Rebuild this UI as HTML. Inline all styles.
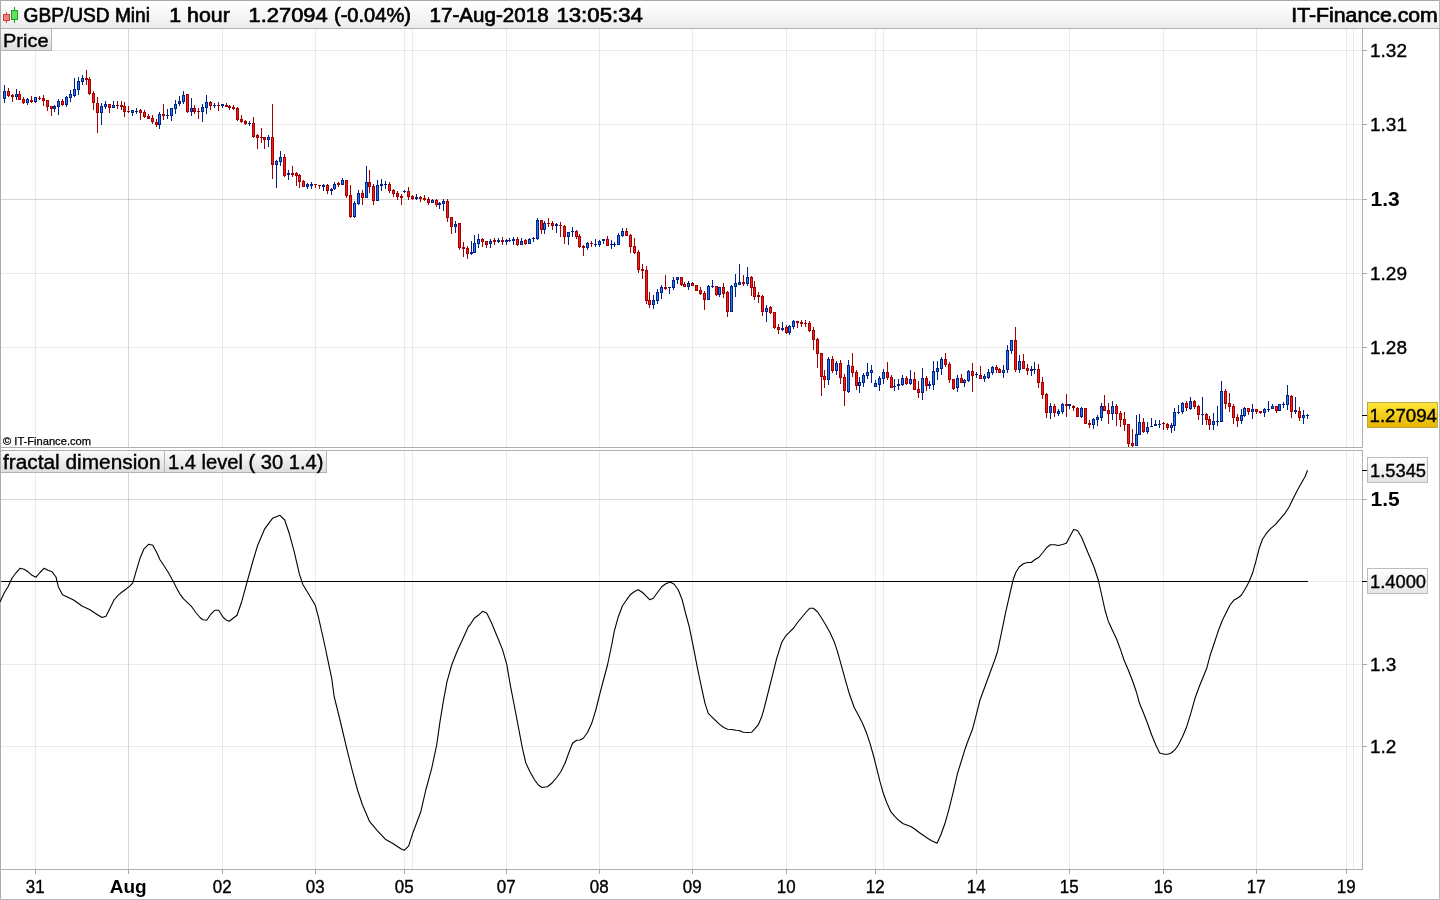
<!DOCTYPE html>
<html><head><meta charset="utf-8"><title>GBP/USD Mini</title>
<style>html,body{margin:0;padding:0;background:#fff;overflow:hidden}svg{display:block}</style>
</head><body>
<svg width="1440" height="900" viewBox="0 0 1440 900" font-family='"Liberation Sans", "DejaVu Sans", sans-serif' shape-rendering="crispEdges">
<defs>
<linearGradient id="hdr" x1="0" y1="0" x2="0" y2="1"><stop offset="0" stop-color="#ffffff"/><stop offset="0.12" stop-color="#ffffff"/><stop offset="1" stop-color="#ebebeb"/></linearGradient>
<linearGradient id="lbl" x1="0" y1="0" x2="0" y2="1"><stop offset="0" stop-color="#fafafa"/><stop offset="1" stop-color="#dedede"/></linearGradient>
<linearGradient id="gold" x1="0" y1="0" x2="0" y2="1"><stop offset="0" stop-color="#ffe838"/><stop offset="1" stop-color="#e6b400"/></linearGradient>
<linearGradient id="valb" x1="0" y1="0" x2="0" y2="1"><stop offset="0" stop-color="#ffffff"/><stop offset="1" stop-color="#e4e4e4"/></linearGradient>
</defs>
<rect x="0" y="0" width="1440" height="900" fill="#ffffff"/>
<rect x="0" y="0" width="1440" height="28" fill="url(#hdr)"/>
<rect x="0" y="28" width="1440" height="1" fill="#b4b4b4"/>
<rect x="0" y="0" width="1440" height="1" fill="#a8a8a8"/>
<rect x="0" y="0" width="1" height="900" fill="#acacac"/>
<rect x="1439" y="0" width="1" height="900" fill="#b8b8b8"/>
<rect x="0" y="899" width="1440" height="1" fill="#b8b8b8"/>
<rect x="35" y="29" width="1" height="418" fill="#000" fill-opacity="0.08"/>
<rect x="35" y="451" width="1" height="418" fill="#000" fill-opacity="0.08"/>
<rect x="128" y="29" width="1" height="418" fill="#000" fill-opacity="0.155"/>
<rect x="128" y="451" width="1" height="418" fill="#000" fill-opacity="0.155"/>
<rect x="222" y="29" width="1" height="418" fill="#000" fill-opacity="0.08"/>
<rect x="222" y="451" width="1" height="418" fill="#000" fill-opacity="0.08"/>
<rect x="315" y="29" width="1" height="418" fill="#000" fill-opacity="0.08"/>
<rect x="315" y="451" width="1" height="418" fill="#000" fill-opacity="0.08"/>
<rect x="404" y="29" width="1" height="418" fill="#000" fill-opacity="0.08"/>
<rect x="404" y="451" width="1" height="418" fill="#000" fill-opacity="0.08"/>
<rect x="412" y="29" width="1" height="418" fill="#000" fill-opacity="0.08"/>
<rect x="412" y="451" width="1" height="418" fill="#000" fill-opacity="0.08"/>
<rect x="506" y="29" width="1" height="418" fill="#000" fill-opacity="0.08"/>
<rect x="506" y="451" width="1" height="418" fill="#000" fill-opacity="0.08"/>
<rect x="599" y="29" width="1" height="418" fill="#000" fill-opacity="0.08"/>
<rect x="599" y="451" width="1" height="418" fill="#000" fill-opacity="0.08"/>
<rect x="692" y="29" width="1" height="418" fill="#000" fill-opacity="0.08"/>
<rect x="692" y="451" width="1" height="418" fill="#000" fill-opacity="0.08"/>
<rect x="786" y="29" width="1" height="418" fill="#000" fill-opacity="0.08"/>
<rect x="786" y="451" width="1" height="418" fill="#000" fill-opacity="0.08"/>
<rect x="875" y="29" width="1" height="418" fill="#000" fill-opacity="0.08"/>
<rect x="875" y="451" width="1" height="418" fill="#000" fill-opacity="0.08"/>
<rect x="883" y="29" width="1" height="418" fill="#000" fill-opacity="0.08"/>
<rect x="883" y="451" width="1" height="418" fill="#000" fill-opacity="0.08"/>
<rect x="976" y="29" width="1" height="418" fill="#000" fill-opacity="0.08"/>
<rect x="976" y="451" width="1" height="418" fill="#000" fill-opacity="0.08"/>
<rect x="1069" y="29" width="1" height="418" fill="#000" fill-opacity="0.08"/>
<rect x="1069" y="451" width="1" height="418" fill="#000" fill-opacity="0.08"/>
<rect x="1163" y="29" width="1" height="418" fill="#000" fill-opacity="0.08"/>
<rect x="1163" y="451" width="1" height="418" fill="#000" fill-opacity="0.08"/>
<rect x="1256" y="29" width="1" height="418" fill="#000" fill-opacity="0.08"/>
<rect x="1256" y="451" width="1" height="418" fill="#000" fill-opacity="0.08"/>
<rect x="1346" y="29" width="1" height="418" fill="#000" fill-opacity="0.08"/>
<rect x="1346" y="451" width="1" height="418" fill="#000" fill-opacity="0.08"/>
<rect x="1353" y="29" width="1" height="418" fill="#000" fill-opacity="0.08"/>
<rect x="1353" y="451" width="1" height="418" fill="#000" fill-opacity="0.08"/>
<rect x="1" y="50" width="1361" height="1" fill="#000" fill-opacity="0.08"/>
<rect x="1" y="124" width="1361" height="1" fill="#000" fill-opacity="0.08"/>
<rect x="1" y="199" width="1361" height="1" fill="#000" fill-opacity="0.155"/>
<rect x="1" y="273" width="1361" height="1" fill="#000" fill-opacity="0.08"/>
<rect x="1" y="347" width="1361" height="1" fill="#000" fill-opacity="0.08"/>
<rect x="1" y="499" width="1361" height="1" fill="#000" fill-opacity="0.155"/>
<rect x="1" y="581" width="1361" height="1" fill="#000" fill-opacity="0.08"/>
<rect x="1" y="664" width="1361" height="1" fill="#000" fill-opacity="0.08"/>
<rect x="1" y="746" width="1361" height="1" fill="#000" fill-opacity="0.08"/>
<rect x="0" y="447" width="1363" height="1" fill="#b0b0b0"/>
<rect x="1362" y="29" width="1" height="419" fill="#b0b0b0"/>
<rect x="0" y="450" width="1363" height="1" fill="#b0b0b0"/>
<rect x="1362" y="450" width="1" height="420" fill="#b0b0b0"/>
<rect x="0" y="869" width="1363" height="1" fill="#b0b0b0"/>
<rect x="1362" y="50" width="5" height="1" fill="#a8a8a8"/>
<text x="1370" y="57" font-size="19" stroke="#000" stroke-width="0.4" fill="#000">1.32</text>
<rect x="1362" y="124" width="5" height="1" fill="#a8a8a8"/>
<text x="1370" y="131" font-size="19" stroke="#000" stroke-width="0.4" fill="#000">1.31</text>
<rect x="1362" y="199" width="5" height="1" fill="#a8a8a8"/>
<text x="1370.5" y="206.3" font-size="21" font-weight="bold" fill="#000">1.3</text>
<rect x="1362" y="273" width="5" height="1" fill="#a8a8a8"/>
<text x="1370" y="280" font-size="19" stroke="#000" stroke-width="0.4" fill="#000">1.29</text>
<rect x="1362" y="347" width="5" height="1" fill="#a8a8a8"/>
<text x="1370" y="354" font-size="19" stroke="#000" stroke-width="0.4" fill="#000">1.28</text>
<rect x="1362" y="499" width="5" height="1" fill="#a8a8a8"/>
<text x="1370.5" y="506.3" font-size="21" font-weight="bold" fill="#000">1.5</text>
<rect x="1362" y="581" width="5" height="1" fill="#a8a8a8"/>
<rect x="1362" y="664" width="5" height="1" fill="#a8a8a8"/>
<text x="1370" y="671" font-size="19" stroke="#000" stroke-width="0.4" fill="#000">1.3</text>
<rect x="1362" y="746" width="5" height="1" fill="#a8a8a8"/>
<text x="1370" y="753" font-size="19" stroke="#000" stroke-width="0.4" fill="#000">1.2</text>
<rect x="35" y="869" width="1" height="5" fill="#a8a8a8"/>
<text x="35.2" y="893" font-size="19" text-anchor="middle" stroke="#000" stroke-width="0.4" textLength="18.8" lengthAdjust="spacingAndGlyphs" fill="#000">31</text>
<rect x="128" y="869" width="1" height="5" fill="#a8a8a8"/>
<text x="128.2" y="893" font-size="19" text-anchor="middle" font-weight="bold" fill="#000">Aug</text>
<rect x="222" y="869" width="1" height="5" fill="#a8a8a8"/>
<text x="222.2" y="893" font-size="19" text-anchor="middle" stroke="#000" stroke-width="0.4" textLength="18.8" lengthAdjust="spacingAndGlyphs" fill="#000">02</text>
<rect x="315" y="869" width="1" height="5" fill="#a8a8a8"/>
<text x="315.2" y="893" font-size="19" text-anchor="middle" stroke="#000" stroke-width="0.4" textLength="18.8" lengthAdjust="spacingAndGlyphs" fill="#000">03</text>
<rect x="404" y="869" width="1" height="5" fill="#a8a8a8"/>
<text x="404.2" y="893" font-size="19" text-anchor="middle" stroke="#000" stroke-width="0.4" textLength="18.8" lengthAdjust="spacingAndGlyphs" fill="#000">05</text>
<rect x="506" y="869" width="1" height="5" fill="#a8a8a8"/>
<text x="506.2" y="893" font-size="19" text-anchor="middle" stroke="#000" stroke-width="0.4" textLength="18.8" lengthAdjust="spacingAndGlyphs" fill="#000">07</text>
<rect x="599" y="869" width="1" height="5" fill="#a8a8a8"/>
<text x="599.2" y="893" font-size="19" text-anchor="middle" stroke="#000" stroke-width="0.4" textLength="18.8" lengthAdjust="spacingAndGlyphs" fill="#000">08</text>
<rect x="692" y="869" width="1" height="5" fill="#a8a8a8"/>
<text x="692.2" y="893" font-size="19" text-anchor="middle" stroke="#000" stroke-width="0.4" textLength="18.8" lengthAdjust="spacingAndGlyphs" fill="#000">09</text>
<rect x="786" y="869" width="1" height="5" fill="#a8a8a8"/>
<text x="786.2" y="893" font-size="19" text-anchor="middle" stroke="#000" stroke-width="0.4" textLength="18.8" lengthAdjust="spacingAndGlyphs" fill="#000">10</text>
<rect x="875" y="869" width="1" height="5" fill="#a8a8a8"/>
<text x="875.2" y="893" font-size="19" text-anchor="middle" stroke="#000" stroke-width="0.4" textLength="18.8" lengthAdjust="spacingAndGlyphs" fill="#000">12</text>
<rect x="976" y="869" width="1" height="5" fill="#a8a8a8"/>
<text x="976.2" y="893" font-size="19" text-anchor="middle" stroke="#000" stroke-width="0.4" textLength="18.8" lengthAdjust="spacingAndGlyphs" fill="#000">14</text>
<rect x="1069" y="869" width="1" height="5" fill="#a8a8a8"/>
<text x="1069.2" y="893" font-size="19" text-anchor="middle" stroke="#000" stroke-width="0.4" textLength="18.8" lengthAdjust="spacingAndGlyphs" fill="#000">15</text>
<rect x="1163" y="869" width="1" height="5" fill="#a8a8a8"/>
<text x="1163.2" y="893" font-size="19" text-anchor="middle" stroke="#000" stroke-width="0.4" textLength="18.8" lengthAdjust="spacingAndGlyphs" fill="#000">16</text>
<rect x="1256" y="869" width="1" height="5" fill="#a8a8a8"/>
<text x="1256.2" y="893" font-size="19" text-anchor="middle" stroke="#000" stroke-width="0.4" textLength="18.8" lengthAdjust="spacingAndGlyphs" fill="#000">17</text>
<rect x="1346" y="869" width="1" height="5" fill="#a8a8a8"/>
<text x="1346.2" y="893" font-size="19" text-anchor="middle" stroke="#000" stroke-width="0.4" textLength="18.8" lengthAdjust="spacingAndGlyphs" fill="#000">19</text>
<rect x="4" y="85" width="1" height="18" fill="#00228a"/>
<rect x="3" y="91" width="3" height="8" fill="#00228a"/>
<rect x="4" y="92" width="1" height="6" fill="#2080e8"/>
<rect x="8" y="88" width="1" height="9" fill="#a40000"/>
<rect x="7" y="91" width="3" height="5" fill="#a40000"/>
<rect x="8" y="92" width="1" height="3" fill="#f02020"/>
<rect x="12" y="94" width="1" height="8" fill="#a40000"/>
<rect x="11" y="95" width="3" height="2" fill="#a40000"/>
<rect x="16" y="89" width="1" height="11" fill="#00228a"/>
<rect x="15" y="94" width="3" height="3" fill="#00228a"/>
<rect x="16" y="95" width="1" height="1" fill="#2080e8"/>
<rect x="19" y="91" width="1" height="9" fill="#a40000"/>
<rect x="18" y="94" width="3" height="6" fill="#a40000"/>
<rect x="19" y="95" width="1" height="4" fill="#f02020"/>
<rect x="23" y="97" width="1" height="7" fill="#a40000"/>
<rect x="22" y="99" width="3" height="4" fill="#a40000"/>
<rect x="23" y="100" width="1" height="2" fill="#f02020"/>
<rect x="27" y="98" width="1" height="7" fill="#00228a"/>
<rect x="26" y="99" width="3" height="4" fill="#00228a"/>
<rect x="27" y="100" width="1" height="2" fill="#2080e8"/>
<rect x="31" y="96" width="1" height="7" fill="#a40000"/>
<rect x="30" y="100" width="3" height="2" fill="#a40000"/>
<rect x="35" y="97" width="1" height="6" fill="#00228a"/>
<rect x="34" y="97" width="3" height="5" fill="#00228a"/>
<rect x="35" y="98" width="1" height="3" fill="#2080e8"/>
<rect x="39" y="96" width="1" height="4" fill="#a40000"/>
<rect x="38" y="98" width="3" height="1" fill="#a40000"/>
<rect x="43" y="95" width="1" height="11" fill="#a40000"/>
<rect x="42" y="98" width="3" height="3" fill="#a40000"/>
<rect x="43" y="99" width="1" height="1" fill="#f02020"/>
<rect x="47" y="100" width="1" height="11" fill="#a40000"/>
<rect x="46" y="100" width="3" height="7" fill="#a40000"/>
<rect x="47" y="101" width="1" height="5" fill="#f02020"/>
<rect x="51" y="106" width="1" height="10" fill="#a40000"/>
<rect x="50" y="106" width="3" height="3" fill="#a40000"/>
<rect x="51" y="107" width="1" height="1" fill="#f02020"/>
<rect x="54" y="105" width="1" height="7" fill="#00228a"/>
<rect x="53" y="106" width="3" height="3" fill="#00228a"/>
<rect x="54" y="107" width="1" height="1" fill="#2080e8"/>
<rect x="58" y="99" width="1" height="16" fill="#00228a"/>
<rect x="57" y="101" width="3" height="6" fill="#00228a"/>
<rect x="58" y="102" width="1" height="4" fill="#2080e8"/>
<rect x="62" y="99" width="1" height="7" fill="#a40000"/>
<rect x="61" y="101" width="3" height="4" fill="#a40000"/>
<rect x="62" y="102" width="1" height="2" fill="#f02020"/>
<rect x="66" y="96" width="1" height="11" fill="#00228a"/>
<rect x="65" y="97" width="3" height="8" fill="#00228a"/>
<rect x="66" y="98" width="1" height="6" fill="#2080e8"/>
<rect x="70" y="90" width="1" height="12" fill="#00228a"/>
<rect x="69" y="94" width="3" height="4" fill="#00228a"/>
<rect x="70" y="95" width="1" height="2" fill="#2080e8"/>
<rect x="74" y="78" width="1" height="19" fill="#00228a"/>
<rect x="73" y="89" width="3" height="7" fill="#00228a"/>
<rect x="74" y="90" width="1" height="5" fill="#2080e8"/>
<rect x="78" y="77" width="1" height="18" fill="#00228a"/>
<rect x="77" y="81" width="3" height="9" fill="#00228a"/>
<rect x="78" y="82" width="1" height="7" fill="#2080e8"/>
<rect x="82" y="75" width="1" height="10" fill="#00228a"/>
<rect x="81" y="78" width="3" height="4" fill="#00228a"/>
<rect x="82" y="79" width="1" height="2" fill="#2080e8"/>
<rect x="86" y="70" width="1" height="15" fill="#a40000"/>
<rect x="85" y="78" width="3" height="2" fill="#a40000"/>
<rect x="89" y="77" width="1" height="18" fill="#a40000"/>
<rect x="88" y="79" width="3" height="15" fill="#a40000"/>
<rect x="89" y="80" width="1" height="13" fill="#f02020"/>
<rect x="93" y="91" width="1" height="19" fill="#a40000"/>
<rect x="92" y="93" width="3" height="10" fill="#a40000"/>
<rect x="93" y="94" width="1" height="8" fill="#f02020"/>
<rect x="97" y="97" width="1" height="36" fill="#a40000"/>
<rect x="96" y="103" width="3" height="10" fill="#a40000"/>
<rect x="97" y="104" width="1" height="8" fill="#f02020"/>
<rect x="101" y="103" width="1" height="22" fill="#00228a"/>
<rect x="100" y="106" width="3" height="7" fill="#00228a"/>
<rect x="101" y="107" width="1" height="5" fill="#2080e8"/>
<rect x="105" y="101" width="1" height="8" fill="#00228a"/>
<rect x="104" y="104" width="3" height="3" fill="#00228a"/>
<rect x="105" y="105" width="1" height="1" fill="#2080e8"/>
<rect x="109" y="104" width="1" height="9" fill="#a40000"/>
<rect x="108" y="104" width="3" height="4" fill="#a40000"/>
<rect x="109" y="105" width="1" height="2" fill="#f02020"/>
<rect x="113" y="101" width="1" height="7" fill="#00228a"/>
<rect x="112" y="105" width="3" height="3" fill="#00228a"/>
<rect x="113" y="106" width="1" height="1" fill="#2080e8"/>
<rect x="117" y="101" width="1" height="8" fill="#a40000"/>
<rect x="116" y="105" width="3" height="1" fill="#a40000"/>
<rect x="121" y="101" width="1" height="9" fill="#a40000"/>
<rect x="120" y="105" width="3" height="2" fill="#a40000"/>
<rect x="124" y="102" width="1" height="15" fill="#a40000"/>
<rect x="123" y="106" width="3" height="6" fill="#a40000"/>
<rect x="124" y="107" width="1" height="4" fill="#f02020"/>
<rect x="128" y="106" width="1" height="7" fill="#a40000"/>
<rect x="127" y="111" width="3" height="1" fill="#a40000"/>
<rect x="132" y="110" width="1" height="6" fill="#00228a"/>
<rect x="131" y="110" width="3" height="3" fill="#00228a"/>
<rect x="132" y="111" width="1" height="1" fill="#2080e8"/>
<rect x="136" y="108" width="1" height="6" fill="#00228a"/>
<rect x="135" y="111" width="3" height="1" fill="#00228a"/>
<rect x="140" y="109" width="1" height="11" fill="#a40000"/>
<rect x="139" y="110" width="3" height="3" fill="#a40000"/>
<rect x="140" y="111" width="1" height="1" fill="#f02020"/>
<rect x="144" y="110" width="1" height="8" fill="#a40000"/>
<rect x="143" y="112" width="3" height="5" fill="#a40000"/>
<rect x="144" y="113" width="1" height="3" fill="#f02020"/>
<rect x="148" y="114" width="1" height="5" fill="#a40000"/>
<rect x="147" y="116" width="3" height="3" fill="#a40000"/>
<rect x="148" y="117" width="1" height="1" fill="#f02020"/>
<rect x="152" y="115" width="1" height="9" fill="#a40000"/>
<rect x="151" y="118" width="3" height="4" fill="#a40000"/>
<rect x="152" y="119" width="1" height="2" fill="#f02020"/>
<rect x="156" y="119" width="1" height="8" fill="#a40000"/>
<rect x="155" y="122" width="3" height="3" fill="#a40000"/>
<rect x="156" y="123" width="1" height="1" fill="#f02020"/>
<rect x="159" y="112" width="1" height="17" fill="#00228a"/>
<rect x="158" y="114" width="3" height="11" fill="#00228a"/>
<rect x="159" y="115" width="1" height="9" fill="#2080e8"/>
<rect x="163" y="104" width="1" height="16" fill="#a40000"/>
<rect x="162" y="114" width="3" height="2" fill="#a40000"/>
<rect x="167" y="109" width="1" height="10" fill="#00228a"/>
<rect x="166" y="115" width="3" height="1" fill="#00228a"/>
<rect x="171" y="108" width="1" height="13" fill="#00228a"/>
<rect x="170" y="108" width="3" height="8" fill="#00228a"/>
<rect x="171" y="109" width="1" height="6" fill="#2080e8"/>
<rect x="175" y="100" width="1" height="14" fill="#00228a"/>
<rect x="174" y="104" width="3" height="5" fill="#00228a"/>
<rect x="175" y="105" width="1" height="3" fill="#2080e8"/>
<rect x="179" y="96" width="1" height="10" fill="#00228a"/>
<rect x="178" y="101" width="3" height="3" fill="#00228a"/>
<rect x="179" y="102" width="1" height="1" fill="#2080e8"/>
<rect x="183" y="91" width="1" height="13" fill="#00228a"/>
<rect x="182" y="95" width="3" height="7" fill="#00228a"/>
<rect x="183" y="96" width="1" height="5" fill="#2080e8"/>
<rect x="187" y="94" width="1" height="19" fill="#a40000"/>
<rect x="186" y="94" width="3" height="18" fill="#a40000"/>
<rect x="187" y="95" width="1" height="16" fill="#f02020"/>
<rect x="191" y="98" width="1" height="18" fill="#00228a"/>
<rect x="190" y="108" width="3" height="4" fill="#00228a"/>
<rect x="191" y="109" width="1" height="2" fill="#2080e8"/>
<rect x="194" y="105" width="1" height="9" fill="#a40000"/>
<rect x="193" y="108" width="3" height="4" fill="#a40000"/>
<rect x="194" y="109" width="1" height="2" fill="#f02020"/>
<rect x="198" y="108" width="1" height="11" fill="#a40000"/>
<rect x="197" y="111" width="3" height="1" fill="#a40000"/>
<rect x="202" y="104" width="1" height="18" fill="#00228a"/>
<rect x="201" y="107" width="3" height="5" fill="#00228a"/>
<rect x="202" y="108" width="1" height="3" fill="#2080e8"/>
<rect x="206" y="95" width="1" height="19" fill="#00228a"/>
<rect x="205" y="102" width="3" height="6" fill="#00228a"/>
<rect x="206" y="103" width="1" height="4" fill="#2080e8"/>
<rect x="210" y="101" width="1" height="9" fill="#a40000"/>
<rect x="209" y="102" width="3" height="4" fill="#a40000"/>
<rect x="210" y="103" width="1" height="2" fill="#f02020"/>
<rect x="214" y="103" width="1" height="5" fill="#00228a"/>
<rect x="213" y="105" width="3" height="1" fill="#00228a"/>
<rect x="218" y="102" width="1" height="9" fill="#a40000"/>
<rect x="217" y="105" width="3" height="1" fill="#a40000"/>
<rect x="222" y="104" width="1" height="4" fill="#00228a"/>
<rect x="221" y="104" width="3" height="2" fill="#00228a"/>
<rect x="226" y="103" width="1" height="4" fill="#a40000"/>
<rect x="225" y="105" width="3" height="2" fill="#a40000"/>
<rect x="229" y="105" width="1" height="5" fill="#a40000"/>
<rect x="228" y="106" width="3" height="2" fill="#a40000"/>
<rect x="233" y="105" width="1" height="5" fill="#a40000"/>
<rect x="232" y="107" width="3" height="2" fill="#a40000"/>
<rect x="237" y="107" width="1" height="14" fill="#a40000"/>
<rect x="236" y="108" width="3" height="12" fill="#a40000"/>
<rect x="237" y="109" width="1" height="10" fill="#f02020"/>
<rect x="241" y="115" width="1" height="8" fill="#a40000"/>
<rect x="240" y="119" width="3" height="3" fill="#a40000"/>
<rect x="241" y="120" width="1" height="1" fill="#f02020"/>
<rect x="245" y="120" width="1" height="5" fill="#a40000"/>
<rect x="244" y="121" width="3" height="3" fill="#a40000"/>
<rect x="245" y="122" width="1" height="1" fill="#f02020"/>
<rect x="249" y="121" width="1" height="5" fill="#00228a"/>
<rect x="248" y="123" width="3" height="1" fill="#00228a"/>
<rect x="253" y="117" width="1" height="21" fill="#a40000"/>
<rect x="252" y="123" width="3" height="14" fill="#a40000"/>
<rect x="253" y="124" width="1" height="12" fill="#f02020"/>
<rect x="257" y="134" width="1" height="15" fill="#a40000"/>
<rect x="256" y="135" width="3" height="3" fill="#a40000"/>
<rect x="257" y="136" width="1" height="1" fill="#f02020"/>
<rect x="261" y="128" width="1" height="15" fill="#a40000"/>
<rect x="260" y="137" width="3" height="1" fill="#a40000"/>
<rect x="264" y="137" width="1" height="12" fill="#a40000"/>
<rect x="263" y="137" width="3" height="3" fill="#a40000"/>
<rect x="264" y="138" width="1" height="1" fill="#f02020"/>
<rect x="268" y="135" width="1" height="12" fill="#00228a"/>
<rect x="267" y="137" width="3" height="3" fill="#00228a"/>
<rect x="268" y="138" width="1" height="1" fill="#2080e8"/>
<rect x="272" y="104" width="1" height="75" fill="#a40000"/>
<rect x="271" y="137" width="3" height="28" fill="#a40000"/>
<rect x="272" y="138" width="1" height="26" fill="#f02020"/>
<rect x="276" y="160" width="1" height="28" fill="#00228a"/>
<rect x="275" y="161" width="3" height="4" fill="#00228a"/>
<rect x="276" y="162" width="1" height="2" fill="#2080e8"/>
<rect x="280" y="151" width="1" height="15" fill="#00228a"/>
<rect x="279" y="157" width="3" height="5" fill="#00228a"/>
<rect x="280" y="158" width="1" height="3" fill="#2080e8"/>
<rect x="284" y="154" width="1" height="23" fill="#a40000"/>
<rect x="283" y="157" width="3" height="19" fill="#a40000"/>
<rect x="284" y="158" width="1" height="17" fill="#f02020"/>
<rect x="288" y="170" width="1" height="10" fill="#00228a"/>
<rect x="287" y="173" width="3" height="2" fill="#00228a"/>
<rect x="292" y="166" width="1" height="11" fill="#a40000"/>
<rect x="291" y="173" width="3" height="2" fill="#a40000"/>
<rect x="296" y="172" width="1" height="14" fill="#a40000"/>
<rect x="295" y="173" width="3" height="3" fill="#a40000"/>
<rect x="296" y="174" width="1" height="1" fill="#f02020"/>
<rect x="299" y="174" width="1" height="14" fill="#a40000"/>
<rect x="298" y="175" width="3" height="7" fill="#a40000"/>
<rect x="299" y="176" width="1" height="5" fill="#f02020"/>
<rect x="303" y="180" width="1" height="7" fill="#a40000"/>
<rect x="302" y="181" width="3" height="6" fill="#a40000"/>
<rect x="303" y="182" width="1" height="4" fill="#f02020"/>
<rect x="307" y="183" width="1" height="6" fill="#00228a"/>
<rect x="306" y="184" width="3" height="3" fill="#00228a"/>
<rect x="307" y="185" width="1" height="1" fill="#2080e8"/>
<rect x="311" y="182" width="1" height="7" fill="#00228a"/>
<rect x="310" y="184" width="3" height="2" fill="#00228a"/>
<rect x="315" y="184" width="1" height="4" fill="#a40000"/>
<rect x="314" y="184" width="3" height="1" fill="#a40000"/>
<rect x="319" y="185" width="1" height="4" fill="#a40000"/>
<rect x="318" y="185" width="3" height="1" fill="#a40000"/>
<rect x="323" y="184" width="1" height="7" fill="#00228a"/>
<rect x="322" y="185" width="3" height="2" fill="#00228a"/>
<rect x="327" y="184" width="1" height="10" fill="#a40000"/>
<rect x="326" y="185" width="3" height="6" fill="#a40000"/>
<rect x="327" y="186" width="1" height="4" fill="#f02020"/>
<rect x="331" y="188" width="1" height="7" fill="#00228a"/>
<rect x="330" y="189" width="3" height="2" fill="#00228a"/>
<rect x="334" y="182" width="1" height="8" fill="#00228a"/>
<rect x="333" y="184" width="3" height="5" fill="#00228a"/>
<rect x="334" y="185" width="1" height="3" fill="#2080e8"/>
<rect x="338" y="182" width="1" height="5" fill="#a40000"/>
<rect x="337" y="183" width="3" height="2" fill="#a40000"/>
<rect x="342" y="178" width="1" height="7" fill="#00228a"/>
<rect x="341" y="180" width="3" height="5" fill="#00228a"/>
<rect x="342" y="181" width="1" height="3" fill="#2080e8"/>
<rect x="346" y="180" width="1" height="18" fill="#a40000"/>
<rect x="345" y="180" width="3" height="16" fill="#a40000"/>
<rect x="346" y="181" width="1" height="14" fill="#f02020"/>
<rect x="350" y="185" width="1" height="33" fill="#a40000"/>
<rect x="349" y="195" width="3" height="22" fill="#a40000"/>
<rect x="350" y="196" width="1" height="20" fill="#f02020"/>
<rect x="354" y="201" width="1" height="17" fill="#00228a"/>
<rect x="353" y="203" width="3" height="14" fill="#00228a"/>
<rect x="354" y="204" width="1" height="12" fill="#2080e8"/>
<rect x="358" y="190" width="1" height="15" fill="#00228a"/>
<rect x="357" y="193" width="3" height="11" fill="#00228a"/>
<rect x="358" y="194" width="1" height="9" fill="#2080e8"/>
<rect x="362" y="190" width="1" height="15" fill="#a40000"/>
<rect x="361" y="193" width="3" height="5" fill="#a40000"/>
<rect x="362" y="194" width="1" height="3" fill="#f02020"/>
<rect x="366" y="166" width="1" height="32" fill="#00228a"/>
<rect x="365" y="182" width="3" height="16" fill="#00228a"/>
<rect x="366" y="183" width="1" height="14" fill="#2080e8"/>
<rect x="369" y="170" width="1" height="23" fill="#a40000"/>
<rect x="368" y="182" width="3" height="5" fill="#a40000"/>
<rect x="369" y="183" width="1" height="3" fill="#f02020"/>
<rect x="373" y="184" width="1" height="21" fill="#a40000"/>
<rect x="372" y="186" width="3" height="15" fill="#a40000"/>
<rect x="373" y="187" width="1" height="13" fill="#f02020"/>
<rect x="377" y="180" width="1" height="21" fill="#00228a"/>
<rect x="376" y="185" width="3" height="16" fill="#00228a"/>
<rect x="377" y="186" width="1" height="14" fill="#2080e8"/>
<rect x="381" y="179" width="1" height="12" fill="#00228a"/>
<rect x="380" y="184" width="3" height="2" fill="#00228a"/>
<rect x="385" y="181" width="1" height="8" fill="#00228a"/>
<rect x="384" y="184" width="3" height="1" fill="#00228a"/>
<rect x="389" y="182" width="1" height="11" fill="#a40000"/>
<rect x="388" y="184" width="3" height="7" fill="#a40000"/>
<rect x="389" y="185" width="1" height="5" fill="#f02020"/>
<rect x="393" y="189" width="1" height="8" fill="#a40000"/>
<rect x="392" y="190" width="3" height="4" fill="#a40000"/>
<rect x="393" y="191" width="1" height="2" fill="#f02020"/>
<rect x="397" y="191" width="1" height="9" fill="#a40000"/>
<rect x="396" y="193" width="3" height="4" fill="#a40000"/>
<rect x="397" y="194" width="1" height="2" fill="#f02020"/>
<rect x="401" y="194" width="1" height="11" fill="#a40000"/>
<rect x="400" y="196" width="3" height="2" fill="#a40000"/>
<rect x="404" y="190" width="1" height="3" fill="#00228a"/>
<rect x="403" y="191" width="3" height="1" fill="#00228a"/>
<rect x="408" y="187" width="1" height="13" fill="#a40000"/>
<rect x="407" y="191" width="3" height="6" fill="#a40000"/>
<rect x="408" y="192" width="1" height="4" fill="#f02020"/>
<rect x="412" y="195" width="1" height="5" fill="#a40000"/>
<rect x="411" y="196" width="3" height="3" fill="#a40000"/>
<rect x="412" y="197" width="1" height="1" fill="#f02020"/>
<rect x="416" y="194" width="1" height="6" fill="#00228a"/>
<rect x="415" y="197" width="3" height="2" fill="#00228a"/>
<rect x="420" y="196" width="1" height="6" fill="#a40000"/>
<rect x="419" y="197" width="3" height="2" fill="#a40000"/>
<rect x="424" y="195" width="1" height="6" fill="#a40000"/>
<rect x="423" y="198" width="3" height="2" fill="#a40000"/>
<rect x="428" y="197" width="1" height="8" fill="#a40000"/>
<rect x="427" y="199" width="3" height="4" fill="#a40000"/>
<rect x="428" y="200" width="1" height="2" fill="#f02020"/>
<rect x="432" y="199" width="1" height="4" fill="#00228a"/>
<rect x="431" y="200" width="3" height="3" fill="#00228a"/>
<rect x="432" y="201" width="1" height="1" fill="#2080e8"/>
<rect x="436" y="199" width="1" height="8" fill="#a40000"/>
<rect x="435" y="200" width="3" height="5" fill="#a40000"/>
<rect x="436" y="201" width="1" height="3" fill="#f02020"/>
<rect x="439" y="202" width="1" height="7" fill="#00228a"/>
<rect x="438" y="203" width="3" height="2" fill="#00228a"/>
<rect x="443" y="199" width="1" height="12" fill="#00228a"/>
<rect x="442" y="201" width="3" height="3" fill="#00228a"/>
<rect x="443" y="202" width="1" height="1" fill="#2080e8"/>
<rect x="447" y="199" width="1" height="23" fill="#a40000"/>
<rect x="446" y="201" width="3" height="17" fill="#a40000"/>
<rect x="447" y="202" width="1" height="15" fill="#f02020"/>
<rect x="451" y="217" width="1" height="17" fill="#a40000"/>
<rect x="450" y="217" width="3" height="10" fill="#a40000"/>
<rect x="451" y="218" width="1" height="8" fill="#f02020"/>
<rect x="455" y="221" width="1" height="12" fill="#00228a"/>
<rect x="454" y="224" width="3" height="3" fill="#00228a"/>
<rect x="455" y="225" width="1" height="1" fill="#2080e8"/>
<rect x="459" y="223" width="1" height="27" fill="#a40000"/>
<rect x="458" y="223" width="3" height="25" fill="#a40000"/>
<rect x="459" y="224" width="1" height="23" fill="#f02020"/>
<rect x="463" y="242" width="1" height="15" fill="#a40000"/>
<rect x="462" y="247" width="3" height="2" fill="#a40000"/>
<rect x="467" y="246" width="1" height="13" fill="#a40000"/>
<rect x="466" y="248" width="3" height="6" fill="#a40000"/>
<rect x="467" y="249" width="1" height="4" fill="#f02020"/>
<rect x="471" y="241" width="1" height="14" fill="#00228a"/>
<rect x="470" y="252" width="3" height="2" fill="#00228a"/>
<rect x="474" y="235" width="1" height="18" fill="#00228a"/>
<rect x="473" y="243" width="3" height="10" fill="#00228a"/>
<rect x="474" y="244" width="1" height="8" fill="#2080e8"/>
<rect x="478" y="234" width="1" height="14" fill="#00228a"/>
<rect x="477" y="239" width="3" height="5" fill="#00228a"/>
<rect x="478" y="240" width="1" height="3" fill="#2080e8"/>
<rect x="482" y="238" width="1" height="9" fill="#a40000"/>
<rect x="481" y="239" width="3" height="3" fill="#a40000"/>
<rect x="482" y="240" width="1" height="1" fill="#f02020"/>
<rect x="486" y="241" width="1" height="7" fill="#a40000"/>
<rect x="485" y="241" width="3" height="4" fill="#a40000"/>
<rect x="486" y="242" width="1" height="2" fill="#f02020"/>
<rect x="490" y="239" width="1" height="9" fill="#00228a"/>
<rect x="489" y="241" width="3" height="3" fill="#00228a"/>
<rect x="490" y="242" width="1" height="1" fill="#2080e8"/>
<rect x="494" y="238" width="1" height="7" fill="#a40000"/>
<rect x="493" y="240" width="3" height="2" fill="#a40000"/>
<rect x="498" y="238" width="1" height="5" fill="#00228a"/>
<rect x="497" y="240" width="3" height="2" fill="#00228a"/>
<rect x="502" y="237" width="1" height="8" fill="#a40000"/>
<rect x="501" y="240" width="3" height="2" fill="#a40000"/>
<rect x="506" y="239" width="1" height="6" fill="#00228a"/>
<rect x="505" y="240" width="3" height="2" fill="#00228a"/>
<rect x="509" y="238" width="1" height="4" fill="#00228a"/>
<rect x="508" y="240" width="3" height="1" fill="#00228a"/>
<rect x="513" y="237" width="1" height="8" fill="#00228a"/>
<rect x="512" y="239" width="3" height="2" fill="#00228a"/>
<rect x="517" y="237" width="1" height="9" fill="#a40000"/>
<rect x="516" y="239" width="3" height="6" fill="#a40000"/>
<rect x="517" y="240" width="1" height="4" fill="#f02020"/>
<rect x="521" y="238" width="1" height="7" fill="#00228a"/>
<rect x="520" y="241" width="3" height="4" fill="#00228a"/>
<rect x="521" y="242" width="1" height="2" fill="#2080e8"/>
<rect x="525" y="239" width="1" height="6" fill="#a40000"/>
<rect x="524" y="240" width="3" height="4" fill="#a40000"/>
<rect x="525" y="241" width="1" height="2" fill="#f02020"/>
<rect x="529" y="238" width="1" height="6" fill="#00228a"/>
<rect x="528" y="239" width="3" height="5" fill="#00228a"/>
<rect x="529" y="240" width="1" height="3" fill="#2080e8"/>
<rect x="533" y="237" width="1" height="5" fill="#00228a"/>
<rect x="532" y="238" width="3" height="1" fill="#00228a"/>
<rect x="537" y="218" width="1" height="22" fill="#00228a"/>
<rect x="536" y="220" width="3" height="19" fill="#00228a"/>
<rect x="537" y="221" width="1" height="17" fill="#2080e8"/>
<rect x="541" y="220" width="1" height="14" fill="#a40000"/>
<rect x="540" y="220" width="3" height="10" fill="#a40000"/>
<rect x="541" y="221" width="1" height="8" fill="#f02020"/>
<rect x="544" y="221" width="1" height="13" fill="#00228a"/>
<rect x="543" y="223" width="3" height="7" fill="#00228a"/>
<rect x="544" y="224" width="1" height="5" fill="#2080e8"/>
<rect x="548" y="218" width="1" height="9" fill="#a40000"/>
<rect x="547" y="223" width="3" height="1" fill="#a40000"/>
<rect x="552" y="221" width="1" height="9" fill="#a40000"/>
<rect x="551" y="223" width="3" height="3" fill="#a40000"/>
<rect x="552" y="224" width="1" height="1" fill="#f02020"/>
<rect x="556" y="223" width="1" height="10" fill="#00228a"/>
<rect x="555" y="224" width="3" height="2" fill="#00228a"/>
<rect x="560" y="222" width="1" height="15" fill="#a40000"/>
<rect x="559" y="225" width="3" height="1" fill="#a40000"/>
<rect x="564" y="225" width="1" height="19" fill="#a40000"/>
<rect x="563" y="226" width="3" height="11" fill="#a40000"/>
<rect x="564" y="227" width="1" height="9" fill="#f02020"/>
<rect x="568" y="232" width="1" height="13" fill="#00228a"/>
<rect x="567" y="232" width="3" height="5" fill="#00228a"/>
<rect x="568" y="233" width="1" height="3" fill="#2080e8"/>
<rect x="572" y="227" width="1" height="10" fill="#00228a"/>
<rect x="571" y="231" width="3" height="1" fill="#00228a"/>
<rect x="576" y="230" width="1" height="9" fill="#a40000"/>
<rect x="575" y="231" width="3" height="6" fill="#a40000"/>
<rect x="576" y="232" width="1" height="4" fill="#f02020"/>
<rect x="579" y="234" width="1" height="14" fill="#a40000"/>
<rect x="578" y="236" width="3" height="11" fill="#a40000"/>
<rect x="579" y="237" width="1" height="9" fill="#f02020"/>
<rect x="583" y="245" width="1" height="11" fill="#a40000"/>
<rect x="582" y="246" width="3" height="2" fill="#a40000"/>
<rect x="587" y="242" width="1" height="8" fill="#00228a"/>
<rect x="586" y="243" width="3" height="5" fill="#00228a"/>
<rect x="587" y="244" width="1" height="3" fill="#2080e8"/>
<rect x="591" y="241" width="1" height="6" fill="#a40000"/>
<rect x="590" y="243" width="3" height="1" fill="#a40000"/>
<rect x="595" y="239" width="1" height="8" fill="#00228a"/>
<rect x="594" y="244" width="3" height="1" fill="#00228a"/>
<rect x="599" y="240" width="1" height="7" fill="#00228a"/>
<rect x="598" y="241" width="3" height="4" fill="#00228a"/>
<rect x="599" y="242" width="1" height="2" fill="#2080e8"/>
<rect x="603" y="239" width="1" height="5" fill="#00228a"/>
<rect x="602" y="239" width="3" height="2" fill="#00228a"/>
<rect x="607" y="236" width="1" height="10" fill="#a40000"/>
<rect x="606" y="239" width="3" height="7" fill="#a40000"/>
<rect x="607" y="240" width="1" height="5" fill="#f02020"/>
<rect x="611" y="240" width="1" height="9" fill="#00228a"/>
<rect x="610" y="244" width="3" height="1" fill="#00228a"/>
<rect x="614" y="242" width="1" height="5" fill="#00228a"/>
<rect x="613" y="244" width="3" height="1" fill="#00228a"/>
<rect x="618" y="233" width="1" height="12" fill="#00228a"/>
<rect x="617" y="235" width="3" height="10" fill="#00228a"/>
<rect x="618" y="236" width="1" height="8" fill="#2080e8"/>
<rect x="622" y="228" width="1" height="9" fill="#00228a"/>
<rect x="621" y="231" width="3" height="5" fill="#00228a"/>
<rect x="622" y="232" width="1" height="3" fill="#2080e8"/>
<rect x="626" y="228" width="1" height="8" fill="#a40000"/>
<rect x="625" y="231" width="3" height="5" fill="#a40000"/>
<rect x="626" y="232" width="1" height="3" fill="#f02020"/>
<rect x="630" y="234" width="1" height="19" fill="#a40000"/>
<rect x="629" y="235" width="3" height="12" fill="#a40000"/>
<rect x="630" y="236" width="1" height="10" fill="#f02020"/>
<rect x="634" y="238" width="1" height="16" fill="#a40000"/>
<rect x="633" y="246" width="3" height="7" fill="#a40000"/>
<rect x="634" y="247" width="1" height="5" fill="#f02020"/>
<rect x="638" y="250" width="1" height="23" fill="#a40000"/>
<rect x="637" y="252" width="3" height="18" fill="#a40000"/>
<rect x="638" y="253" width="1" height="16" fill="#f02020"/>
<rect x="642" y="264" width="1" height="15" fill="#a40000"/>
<rect x="641" y="269" width="3" height="2" fill="#a40000"/>
<rect x="646" y="266" width="1" height="38" fill="#a40000"/>
<rect x="645" y="270" width="3" height="31" fill="#a40000"/>
<rect x="646" y="271" width="1" height="29" fill="#f02020"/>
<rect x="649" y="292" width="1" height="16" fill="#a40000"/>
<rect x="648" y="300" width="3" height="5" fill="#a40000"/>
<rect x="649" y="301" width="1" height="3" fill="#f02020"/>
<rect x="653" y="295" width="1" height="14" fill="#00228a"/>
<rect x="652" y="300" width="3" height="5" fill="#00228a"/>
<rect x="653" y="301" width="1" height="3" fill="#2080e8"/>
<rect x="657" y="289" width="1" height="15" fill="#00228a"/>
<rect x="656" y="292" width="3" height="9" fill="#00228a"/>
<rect x="657" y="293" width="1" height="7" fill="#2080e8"/>
<rect x="661" y="285" width="1" height="14" fill="#00228a"/>
<rect x="660" y="287" width="3" height="6" fill="#00228a"/>
<rect x="661" y="288" width="1" height="4" fill="#2080e8"/>
<rect x="665" y="275" width="1" height="15" fill="#a40000"/>
<rect x="664" y="287" width="3" height="2" fill="#a40000"/>
<rect x="669" y="287" width="1" height="7" fill="#00228a"/>
<rect x="668" y="287" width="3" height="1" fill="#00228a"/>
<rect x="673" y="277" width="1" height="13" fill="#00228a"/>
<rect x="672" y="280" width="3" height="8" fill="#00228a"/>
<rect x="673" y="281" width="1" height="6" fill="#2080e8"/>
<rect x="677" y="277" width="1" height="7" fill="#00228a"/>
<rect x="676" y="277" width="3" height="3" fill="#00228a"/>
<rect x="677" y="278" width="1" height="1" fill="#2080e8"/>
<rect x="681" y="277" width="1" height="9" fill="#a40000"/>
<rect x="680" y="277" width="3" height="8" fill="#a40000"/>
<rect x="681" y="278" width="1" height="6" fill="#f02020"/>
<rect x="684" y="282" width="1" height="5" fill="#a40000"/>
<rect x="683" y="284" width="3" height="3" fill="#a40000"/>
<rect x="684" y="285" width="1" height="1" fill="#f02020"/>
<rect x="688" y="281" width="1" height="9" fill="#00228a"/>
<rect x="687" y="283" width="3" height="4" fill="#00228a"/>
<rect x="688" y="284" width="1" height="2" fill="#2080e8"/>
<rect x="692" y="282" width="1" height="4" fill="#a40000"/>
<rect x="691" y="283" width="3" height="3" fill="#a40000"/>
<rect x="692" y="284" width="1" height="1" fill="#f02020"/>
<rect x="696" y="285" width="1" height="6" fill="#a40000"/>
<rect x="695" y="285" width="3" height="6" fill="#a40000"/>
<rect x="696" y="286" width="1" height="4" fill="#f02020"/>
<rect x="700" y="287" width="1" height="8" fill="#a40000"/>
<rect x="699" y="290" width="3" height="4" fill="#a40000"/>
<rect x="700" y="291" width="1" height="2" fill="#f02020"/>
<rect x="704" y="291" width="1" height="19" fill="#a40000"/>
<rect x="703" y="293" width="3" height="7" fill="#a40000"/>
<rect x="704" y="294" width="1" height="5" fill="#f02020"/>
<rect x="708" y="285" width="1" height="15" fill="#00228a"/>
<rect x="707" y="286" width="3" height="14" fill="#00228a"/>
<rect x="708" y="287" width="1" height="12" fill="#2080e8"/>
<rect x="712" y="280" width="1" height="8" fill="#00228a"/>
<rect x="711" y="286" width="3" height="1" fill="#00228a"/>
<rect x="716" y="286" width="1" height="10" fill="#a40000"/>
<rect x="715" y="286" width="3" height="9" fill="#a40000"/>
<rect x="716" y="287" width="1" height="7" fill="#f02020"/>
<rect x="719" y="287" width="1" height="10" fill="#00228a"/>
<rect x="718" y="287" width="3" height="8" fill="#00228a"/>
<rect x="719" y="288" width="1" height="6" fill="#2080e8"/>
<rect x="723" y="283" width="1" height="15" fill="#a40000"/>
<rect x="722" y="287" width="3" height="7" fill="#a40000"/>
<rect x="723" y="288" width="1" height="5" fill="#f02020"/>
<rect x="727" y="291" width="1" height="26" fill="#a40000"/>
<rect x="726" y="292" width="3" height="20" fill="#a40000"/>
<rect x="727" y="293" width="1" height="18" fill="#f02020"/>
<rect x="731" y="285" width="1" height="27" fill="#00228a"/>
<rect x="730" y="286" width="3" height="26" fill="#00228a"/>
<rect x="731" y="287" width="1" height="24" fill="#2080e8"/>
<rect x="735" y="274" width="1" height="23" fill="#00228a"/>
<rect x="734" y="283" width="3" height="4" fill="#00228a"/>
<rect x="735" y="284" width="1" height="2" fill="#2080e8"/>
<rect x="739" y="264" width="1" height="21" fill="#00228a"/>
<rect x="738" y="282" width="3" height="3" fill="#00228a"/>
<rect x="739" y="283" width="1" height="1" fill="#2080e8"/>
<rect x="743" y="275" width="1" height="11" fill="#a40000"/>
<rect x="742" y="282" width="3" height="2" fill="#a40000"/>
<rect x="747" y="267" width="1" height="19" fill="#00228a"/>
<rect x="746" y="277" width="3" height="7" fill="#00228a"/>
<rect x="747" y="278" width="1" height="5" fill="#2080e8"/>
<rect x="751" y="276" width="1" height="20" fill="#a40000"/>
<rect x="750" y="277" width="3" height="11" fill="#a40000"/>
<rect x="751" y="278" width="1" height="9" fill="#f02020"/>
<rect x="754" y="281" width="1" height="19" fill="#a40000"/>
<rect x="753" y="287" width="3" height="10" fill="#a40000"/>
<rect x="754" y="288" width="1" height="8" fill="#f02020"/>
<rect x="758" y="292" width="1" height="11" fill="#a40000"/>
<rect x="757" y="295" width="3" height="2" fill="#a40000"/>
<rect x="762" y="295" width="1" height="21" fill="#a40000"/>
<rect x="761" y="296" width="3" height="16" fill="#a40000"/>
<rect x="762" y="297" width="1" height="14" fill="#f02020"/>
<rect x="766" y="305" width="1" height="17" fill="#00228a"/>
<rect x="765" y="308" width="3" height="4" fill="#00228a"/>
<rect x="766" y="309" width="1" height="2" fill="#2080e8"/>
<rect x="770" y="306" width="1" height="8" fill="#a40000"/>
<rect x="769" y="307" width="3" height="6" fill="#a40000"/>
<rect x="770" y="308" width="1" height="4" fill="#f02020"/>
<rect x="774" y="312" width="1" height="17" fill="#a40000"/>
<rect x="773" y="312" width="3" height="16" fill="#a40000"/>
<rect x="774" y="313" width="1" height="14" fill="#f02020"/>
<rect x="778" y="324" width="1" height="10" fill="#a40000"/>
<rect x="777" y="327" width="3" height="3" fill="#a40000"/>
<rect x="778" y="328" width="1" height="1" fill="#f02020"/>
<rect x="782" y="322" width="1" height="9" fill="#00228a"/>
<rect x="781" y="328" width="3" height="2" fill="#00228a"/>
<rect x="786" y="325" width="1" height="9" fill="#a40000"/>
<rect x="785" y="327" width="3" height="6" fill="#a40000"/>
<rect x="786" y="328" width="1" height="4" fill="#f02020"/>
<rect x="789" y="325" width="1" height="10" fill="#00228a"/>
<rect x="788" y="326" width="3" height="7" fill="#00228a"/>
<rect x="789" y="327" width="1" height="5" fill="#2080e8"/>
<rect x="793" y="320" width="1" height="9" fill="#00228a"/>
<rect x="792" y="321" width="3" height="6" fill="#00228a"/>
<rect x="793" y="322" width="1" height="4" fill="#2080e8"/>
<rect x="797" y="321" width="1" height="7" fill="#a40000"/>
<rect x="796" y="321" width="3" height="2" fill="#a40000"/>
<rect x="801" y="320" width="1" height="7" fill="#a40000"/>
<rect x="800" y="322" width="3" height="2" fill="#a40000"/>
<rect x="805" y="320" width="1" height="7" fill="#a40000"/>
<rect x="804" y="323" width="3" height="1" fill="#a40000"/>
<rect x="809" y="321" width="1" height="11" fill="#a40000"/>
<rect x="808" y="323" width="3" height="8" fill="#a40000"/>
<rect x="809" y="324" width="1" height="6" fill="#f02020"/>
<rect x="813" y="327" width="1" height="23" fill="#a40000"/>
<rect x="812" y="330" width="3" height="10" fill="#a40000"/>
<rect x="813" y="331" width="1" height="8" fill="#f02020"/>
<rect x="817" y="338" width="1" height="30" fill="#a40000"/>
<rect x="816" y="339" width="3" height="15" fill="#a40000"/>
<rect x="817" y="340" width="1" height="13" fill="#f02020"/>
<rect x="821" y="353" width="1" height="43" fill="#a40000"/>
<rect x="820" y="353" width="3" height="24" fill="#a40000"/>
<rect x="821" y="354" width="1" height="22" fill="#f02020"/>
<rect x="824" y="370" width="1" height="18" fill="#a40000"/>
<rect x="823" y="376" width="3" height="4" fill="#a40000"/>
<rect x="824" y="377" width="1" height="2" fill="#f02020"/>
<rect x="828" y="357" width="1" height="28" fill="#00228a"/>
<rect x="827" y="359" width="3" height="21" fill="#00228a"/>
<rect x="828" y="360" width="1" height="19" fill="#2080e8"/>
<rect x="832" y="356" width="1" height="17" fill="#a40000"/>
<rect x="831" y="359" width="3" height="12" fill="#a40000"/>
<rect x="832" y="360" width="1" height="10" fill="#f02020"/>
<rect x="836" y="361" width="1" height="14" fill="#00228a"/>
<rect x="835" y="363" width="3" height="8" fill="#00228a"/>
<rect x="836" y="364" width="1" height="6" fill="#2080e8"/>
<rect x="840" y="360" width="1" height="24" fill="#a40000"/>
<rect x="839" y="363" width="3" height="15" fill="#a40000"/>
<rect x="840" y="364" width="1" height="13" fill="#f02020"/>
<rect x="844" y="374" width="1" height="32" fill="#a40000"/>
<rect x="843" y="377" width="3" height="14" fill="#a40000"/>
<rect x="844" y="378" width="1" height="12" fill="#f02020"/>
<rect x="848" y="360" width="1" height="33" fill="#00228a"/>
<rect x="847" y="365" width="3" height="27" fill="#00228a"/>
<rect x="848" y="366" width="1" height="25" fill="#2080e8"/>
<rect x="852" y="353" width="1" height="24" fill="#a40000"/>
<rect x="851" y="366" width="3" height="7" fill="#a40000"/>
<rect x="852" y="367" width="1" height="5" fill="#f02020"/>
<rect x="856" y="370" width="1" height="20" fill="#a40000"/>
<rect x="855" y="372" width="3" height="14" fill="#a40000"/>
<rect x="856" y="373" width="1" height="12" fill="#f02020"/>
<rect x="859" y="377" width="1" height="16" fill="#00228a"/>
<rect x="858" y="382" width="3" height="4" fill="#00228a"/>
<rect x="859" y="383" width="1" height="2" fill="#2080e8"/>
<rect x="863" y="373" width="1" height="14" fill="#00228a"/>
<rect x="862" y="375" width="3" height="8" fill="#00228a"/>
<rect x="863" y="376" width="1" height="6" fill="#2080e8"/>
<rect x="867" y="363" width="1" height="16" fill="#00228a"/>
<rect x="866" y="372" width="3" height="4" fill="#00228a"/>
<rect x="867" y="373" width="1" height="2" fill="#2080e8"/>
<rect x="871" y="365" width="1" height="18" fill="#00228a"/>
<rect x="870" y="370" width="3" height="3" fill="#00228a"/>
<rect x="871" y="371" width="1" height="1" fill="#2080e8"/>
<rect x="875" y="380" width="1" height="7" fill="#00228a"/>
<rect x="874" y="383" width="3" height="4" fill="#00228a"/>
<rect x="875" y="384" width="1" height="2" fill="#2080e8"/>
<rect x="879" y="376" width="1" height="15" fill="#00228a"/>
<rect x="878" y="378" width="3" height="7" fill="#00228a"/>
<rect x="879" y="379" width="1" height="5" fill="#2080e8"/>
<rect x="883" y="369" width="1" height="15" fill="#00228a"/>
<rect x="882" y="372" width="3" height="7" fill="#00228a"/>
<rect x="883" y="373" width="1" height="5" fill="#2080e8"/>
<rect x="887" y="362" width="1" height="18" fill="#a40000"/>
<rect x="886" y="372" width="3" height="6" fill="#a40000"/>
<rect x="887" y="373" width="1" height="4" fill="#f02020"/>
<rect x="891" y="375" width="1" height="13" fill="#a40000"/>
<rect x="890" y="377" width="3" height="11" fill="#a40000"/>
<rect x="891" y="378" width="1" height="9" fill="#f02020"/>
<rect x="894" y="379" width="1" height="12" fill="#00228a"/>
<rect x="893" y="386" width="3" height="1" fill="#00228a"/>
<rect x="898" y="379" width="1" height="11" fill="#00228a"/>
<rect x="897" y="384" width="3" height="2" fill="#00228a"/>
<rect x="902" y="375" width="1" height="11" fill="#00228a"/>
<rect x="901" y="378" width="3" height="7" fill="#00228a"/>
<rect x="902" y="379" width="1" height="5" fill="#2080e8"/>
<rect x="906" y="376" width="1" height="9" fill="#a40000"/>
<rect x="905" y="378" width="3" height="6" fill="#a40000"/>
<rect x="906" y="379" width="1" height="4" fill="#f02020"/>
<rect x="910" y="370" width="1" height="15" fill="#00228a"/>
<rect x="909" y="379" width="3" height="5" fill="#00228a"/>
<rect x="910" y="380" width="1" height="3" fill="#2080e8"/>
<rect x="914" y="372" width="1" height="18" fill="#a40000"/>
<rect x="913" y="379" width="3" height="11" fill="#a40000"/>
<rect x="914" y="380" width="1" height="9" fill="#f02020"/>
<rect x="918" y="381" width="1" height="17" fill="#a40000"/>
<rect x="917" y="389" width="3" height="4" fill="#a40000"/>
<rect x="918" y="390" width="1" height="2" fill="#f02020"/>
<rect x="922" y="368" width="1" height="32" fill="#00228a"/>
<rect x="921" y="378" width="3" height="15" fill="#00228a"/>
<rect x="922" y="379" width="1" height="13" fill="#2080e8"/>
<rect x="926" y="376" width="1" height="15" fill="#a40000"/>
<rect x="925" y="378" width="3" height="8" fill="#a40000"/>
<rect x="926" y="379" width="1" height="6" fill="#f02020"/>
<rect x="929" y="381" width="1" height="8" fill="#00228a"/>
<rect x="928" y="384" width="3" height="2" fill="#00228a"/>
<rect x="933" y="361" width="1" height="29" fill="#00228a"/>
<rect x="932" y="371" width="3" height="14" fill="#00228a"/>
<rect x="933" y="372" width="1" height="12" fill="#2080e8"/>
<rect x="937" y="361" width="1" height="19" fill="#00228a"/>
<rect x="936" y="368" width="3" height="4" fill="#00228a"/>
<rect x="937" y="369" width="1" height="2" fill="#2080e8"/>
<rect x="941" y="357" width="1" height="18" fill="#00228a"/>
<rect x="940" y="359" width="3" height="10" fill="#00228a"/>
<rect x="941" y="360" width="1" height="8" fill="#2080e8"/>
<rect x="945" y="353" width="1" height="14" fill="#a40000"/>
<rect x="944" y="359" width="3" height="6" fill="#a40000"/>
<rect x="945" y="360" width="1" height="4" fill="#f02020"/>
<rect x="949" y="362" width="1" height="21" fill="#a40000"/>
<rect x="948" y="364" width="3" height="16" fill="#a40000"/>
<rect x="949" y="365" width="1" height="14" fill="#f02020"/>
<rect x="953" y="379" width="1" height="11" fill="#a40000"/>
<rect x="952" y="379" width="3" height="10" fill="#a40000"/>
<rect x="953" y="380" width="1" height="8" fill="#f02020"/>
<rect x="957" y="375" width="1" height="17" fill="#00228a"/>
<rect x="956" y="378" width="3" height="10" fill="#00228a"/>
<rect x="957" y="379" width="1" height="8" fill="#2080e8"/>
<rect x="961" y="374" width="1" height="9" fill="#a40000"/>
<rect x="960" y="378" width="3" height="5" fill="#a40000"/>
<rect x="961" y="379" width="1" height="3" fill="#f02020"/>
<rect x="964" y="379" width="1" height="8" fill="#00228a"/>
<rect x="963" y="380" width="3" height="3" fill="#00228a"/>
<rect x="964" y="381" width="1" height="1" fill="#2080e8"/>
<rect x="968" y="370" width="1" height="12" fill="#00228a"/>
<rect x="967" y="371" width="3" height="10" fill="#00228a"/>
<rect x="968" y="372" width="1" height="8" fill="#2080e8"/>
<rect x="972" y="363" width="1" height="29" fill="#a40000"/>
<rect x="971" y="371" width="3" height="5" fill="#a40000"/>
<rect x="972" y="372" width="1" height="3" fill="#f02020"/>
<rect x="976" y="372" width="1" height="6" fill="#00228a"/>
<rect x="975" y="374" width="3" height="1" fill="#00228a"/>
<rect x="980" y="366" width="1" height="13" fill="#a40000"/>
<rect x="979" y="375" width="3" height="4" fill="#a40000"/>
<rect x="980" y="376" width="1" height="2" fill="#f02020"/>
<rect x="984" y="374" width="1" height="8" fill="#00228a"/>
<rect x="983" y="376" width="3" height="3" fill="#00228a"/>
<rect x="984" y="377" width="1" height="1" fill="#2080e8"/>
<rect x="988" y="369" width="1" height="10" fill="#00228a"/>
<rect x="987" y="372" width="3" height="6" fill="#00228a"/>
<rect x="988" y="373" width="1" height="4" fill="#2080e8"/>
<rect x="992" y="366" width="1" height="9" fill="#00228a"/>
<rect x="991" y="367" width="3" height="6" fill="#00228a"/>
<rect x="992" y="368" width="1" height="4" fill="#2080e8"/>
<rect x="996" y="365" width="1" height="8" fill="#a40000"/>
<rect x="995" y="367" width="3" height="3" fill="#a40000"/>
<rect x="996" y="368" width="1" height="1" fill="#f02020"/>
<rect x="999" y="368" width="1" height="5" fill="#a40000"/>
<rect x="998" y="369" width="3" height="4" fill="#a40000"/>
<rect x="999" y="370" width="1" height="2" fill="#f02020"/>
<rect x="1003" y="365" width="1" height="13" fill="#00228a"/>
<rect x="1002" y="370" width="3" height="3" fill="#00228a"/>
<rect x="1003" y="371" width="1" height="1" fill="#2080e8"/>
<rect x="1007" y="345" width="1" height="28" fill="#00228a"/>
<rect x="1006" y="350" width="3" height="20" fill="#00228a"/>
<rect x="1007" y="351" width="1" height="18" fill="#2080e8"/>
<rect x="1011" y="340" width="1" height="14" fill="#00228a"/>
<rect x="1010" y="340" width="3" height="11" fill="#00228a"/>
<rect x="1011" y="341" width="1" height="9" fill="#2080e8"/>
<rect x="1015" y="327" width="1" height="45" fill="#a40000"/>
<rect x="1014" y="340" width="3" height="30" fill="#a40000"/>
<rect x="1015" y="341" width="1" height="28" fill="#f02020"/>
<rect x="1019" y="355" width="1" height="18" fill="#00228a"/>
<rect x="1018" y="361" width="3" height="9" fill="#00228a"/>
<rect x="1019" y="362" width="1" height="7" fill="#2080e8"/>
<rect x="1023" y="354" width="1" height="15" fill="#a40000"/>
<rect x="1022" y="361" width="3" height="8" fill="#a40000"/>
<rect x="1023" y="362" width="1" height="6" fill="#f02020"/>
<rect x="1027" y="364" width="1" height="11" fill="#a40000"/>
<rect x="1026" y="368" width="3" height="3" fill="#a40000"/>
<rect x="1027" y="369" width="1" height="1" fill="#f02020"/>
<rect x="1031" y="366" width="1" height="10" fill="#00228a"/>
<rect x="1030" y="369" width="3" height="2" fill="#00228a"/>
<rect x="1034" y="362" width="1" height="12" fill="#00228a"/>
<rect x="1033" y="369" width="3" height="1" fill="#00228a"/>
<rect x="1038" y="364" width="1" height="24" fill="#a40000"/>
<rect x="1037" y="369" width="3" height="14" fill="#a40000"/>
<rect x="1038" y="370" width="1" height="12" fill="#f02020"/>
<rect x="1042" y="377" width="1" height="22" fill="#a40000"/>
<rect x="1041" y="382" width="3" height="13" fill="#a40000"/>
<rect x="1042" y="383" width="1" height="11" fill="#f02020"/>
<rect x="1046" y="393" width="1" height="25" fill="#a40000"/>
<rect x="1045" y="394" width="3" height="19" fill="#a40000"/>
<rect x="1046" y="395" width="1" height="17" fill="#f02020"/>
<rect x="1050" y="403" width="1" height="16" fill="#00228a"/>
<rect x="1049" y="406" width="3" height="7" fill="#00228a"/>
<rect x="1050" y="407" width="1" height="5" fill="#2080e8"/>
<rect x="1054" y="404" width="1" height="13" fill="#a40000"/>
<rect x="1053" y="406" width="3" height="7" fill="#a40000"/>
<rect x="1054" y="407" width="1" height="5" fill="#f02020"/>
<rect x="1058" y="409" width="1" height="7" fill="#00228a"/>
<rect x="1057" y="411" width="3" height="3" fill="#00228a"/>
<rect x="1058" y="412" width="1" height="1" fill="#2080e8"/>
<rect x="1062" y="403" width="1" height="11" fill="#00228a"/>
<rect x="1061" y="404" width="3" height="8" fill="#00228a"/>
<rect x="1062" y="405" width="1" height="6" fill="#2080e8"/>
<rect x="1066" y="394" width="1" height="23" fill="#a40000"/>
<rect x="1065" y="404" width="3" height="2" fill="#a40000"/>
<rect x="1069" y="404" width="1" height="5" fill="#00228a"/>
<rect x="1068" y="404" width="3" height="2" fill="#00228a"/>
<rect x="1073" y="405" width="1" height="6" fill="#a40000"/>
<rect x="1072" y="406" width="3" height="2" fill="#a40000"/>
<rect x="1077" y="407" width="1" height="10" fill="#a40000"/>
<rect x="1076" y="408" width="3" height="9" fill="#a40000"/>
<rect x="1077" y="409" width="1" height="7" fill="#f02020"/>
<rect x="1081" y="407" width="1" height="11" fill="#00228a"/>
<rect x="1080" y="408" width="3" height="9" fill="#00228a"/>
<rect x="1081" y="409" width="1" height="7" fill="#2080e8"/>
<rect x="1085" y="408" width="1" height="16" fill="#a40000"/>
<rect x="1084" y="408" width="3" height="16" fill="#a40000"/>
<rect x="1085" y="409" width="1" height="14" fill="#f02020"/>
<rect x="1089" y="420" width="1" height="8" fill="#a40000"/>
<rect x="1088" y="423" width="3" height="2" fill="#a40000"/>
<rect x="1093" y="418" width="1" height="11" fill="#00228a"/>
<rect x="1092" y="419" width="3" height="6" fill="#00228a"/>
<rect x="1093" y="420" width="1" height="4" fill="#2080e8"/>
<rect x="1097" y="415" width="1" height="11" fill="#00228a"/>
<rect x="1096" y="417" width="3" height="3" fill="#00228a"/>
<rect x="1097" y="418" width="1" height="1" fill="#2080e8"/>
<rect x="1101" y="403" width="1" height="18" fill="#00228a"/>
<rect x="1100" y="406" width="3" height="12" fill="#00228a"/>
<rect x="1101" y="407" width="1" height="10" fill="#2080e8"/>
<rect x="1104" y="395" width="1" height="16" fill="#a40000"/>
<rect x="1103" y="406" width="3" height="5" fill="#a40000"/>
<rect x="1104" y="407" width="1" height="3" fill="#f02020"/>
<rect x="1108" y="403" width="1" height="21" fill="#a40000"/>
<rect x="1107" y="410" width="3" height="4" fill="#a40000"/>
<rect x="1108" y="411" width="1" height="2" fill="#f02020"/>
<rect x="1112" y="401" width="1" height="19" fill="#00228a"/>
<rect x="1111" y="406" width="3" height="8" fill="#00228a"/>
<rect x="1112" y="407" width="1" height="6" fill="#2080e8"/>
<rect x="1116" y="404" width="1" height="22" fill="#a40000"/>
<rect x="1115" y="406" width="3" height="8" fill="#a40000"/>
<rect x="1116" y="407" width="1" height="6" fill="#f02020"/>
<rect x="1120" y="411" width="1" height="16" fill="#a40000"/>
<rect x="1119" y="413" width="3" height="7" fill="#a40000"/>
<rect x="1120" y="414" width="1" height="5" fill="#f02020"/>
<rect x="1124" y="412" width="1" height="19" fill="#a40000"/>
<rect x="1123" y="419" width="3" height="6" fill="#a40000"/>
<rect x="1124" y="420" width="1" height="4" fill="#f02020"/>
<rect x="1128" y="424" width="1" height="23" fill="#a40000"/>
<rect x="1127" y="424" width="3" height="20" fill="#a40000"/>
<rect x="1128" y="425" width="1" height="18" fill="#f02020"/>
<rect x="1132" y="429" width="1" height="18" fill="#a40000"/>
<rect x="1131" y="443" width="3" height="3" fill="#a40000"/>
<rect x="1132" y="444" width="1" height="1" fill="#f02020"/>
<rect x="1136" y="415" width="1" height="31" fill="#00228a"/>
<rect x="1135" y="434" width="3" height="12" fill="#00228a"/>
<rect x="1136" y="435" width="1" height="10" fill="#2080e8"/>
<rect x="1139" y="414" width="1" height="21" fill="#00228a"/>
<rect x="1138" y="422" width="3" height="13" fill="#00228a"/>
<rect x="1139" y="423" width="1" height="11" fill="#2080e8"/>
<rect x="1143" y="418" width="1" height="15" fill="#a40000"/>
<rect x="1142" y="422" width="3" height="10" fill="#a40000"/>
<rect x="1143" y="423" width="1" height="8" fill="#f02020"/>
<rect x="1147" y="422" width="1" height="12" fill="#00228a"/>
<rect x="1146" y="427" width="3" height="5" fill="#00228a"/>
<rect x="1147" y="428" width="1" height="3" fill="#2080e8"/>
<rect x="1151" y="418" width="1" height="9" fill="#00228a"/>
<rect x="1150" y="426" width="3" height="1" fill="#00228a"/>
<rect x="1155" y="420" width="1" height="6" fill="#00228a"/>
<rect x="1154" y="424" width="3" height="2" fill="#00228a"/>
<rect x="1159" y="420" width="1" height="8" fill="#00228a"/>
<rect x="1158" y="424" width="3" height="1" fill="#00228a"/>
<rect x="1163" y="422" width="1" height="8" fill="#a40000"/>
<rect x="1162" y="423" width="3" height="1" fill="#a40000"/>
<rect x="1167" y="423" width="1" height="7" fill="#a40000"/>
<rect x="1166" y="424" width="3" height="4" fill="#a40000"/>
<rect x="1167" y="425" width="1" height="2" fill="#f02020"/>
<rect x="1171" y="423" width="1" height="10" fill="#00228a"/>
<rect x="1170" y="425" width="3" height="3" fill="#00228a"/>
<rect x="1171" y="426" width="1" height="1" fill="#2080e8"/>
<rect x="1174" y="408" width="1" height="23" fill="#00228a"/>
<rect x="1173" y="412" width="3" height="14" fill="#00228a"/>
<rect x="1174" y="413" width="1" height="12" fill="#2080e8"/>
<rect x="1178" y="405" width="1" height="9" fill="#00228a"/>
<rect x="1177" y="412" width="3" height="1" fill="#00228a"/>
<rect x="1182" y="402" width="1" height="12" fill="#00228a"/>
<rect x="1181" y="403" width="3" height="9" fill="#00228a"/>
<rect x="1182" y="404" width="1" height="7" fill="#2080e8"/>
<rect x="1186" y="401" width="1" height="10" fill="#a40000"/>
<rect x="1185" y="403" width="3" height="5" fill="#a40000"/>
<rect x="1186" y="404" width="1" height="3" fill="#f02020"/>
<rect x="1190" y="397" width="1" height="13" fill="#00228a"/>
<rect x="1189" y="401" width="3" height="8" fill="#00228a"/>
<rect x="1190" y="402" width="1" height="6" fill="#2080e8"/>
<rect x="1194" y="400" width="1" height="9" fill="#a40000"/>
<rect x="1193" y="401" width="3" height="6" fill="#a40000"/>
<rect x="1194" y="402" width="1" height="4" fill="#f02020"/>
<rect x="1198" y="405" width="1" height="15" fill="#a40000"/>
<rect x="1197" y="406" width="3" height="9" fill="#a40000"/>
<rect x="1198" y="407" width="1" height="7" fill="#f02020"/>
<rect x="1202" y="397" width="1" height="28" fill="#00228a"/>
<rect x="1201" y="414" width="3" height="1" fill="#00228a"/>
<rect x="1206" y="413" width="1" height="12" fill="#a40000"/>
<rect x="1205" y="414" width="3" height="6" fill="#a40000"/>
<rect x="1206" y="415" width="1" height="4" fill="#f02020"/>
<rect x="1209" y="416" width="1" height="14" fill="#a40000"/>
<rect x="1208" y="419" width="3" height="6" fill="#a40000"/>
<rect x="1209" y="420" width="1" height="4" fill="#f02020"/>
<rect x="1213" y="413" width="1" height="17" fill="#00228a"/>
<rect x="1212" y="421" width="3" height="4" fill="#00228a"/>
<rect x="1213" y="422" width="1" height="2" fill="#2080e8"/>
<rect x="1217" y="406" width="1" height="20" fill="#00228a"/>
<rect x="1216" y="421" width="3" height="1" fill="#00228a"/>
<rect x="1221" y="381" width="1" height="41" fill="#00228a"/>
<rect x="1220" y="391" width="3" height="31" fill="#00228a"/>
<rect x="1221" y="392" width="1" height="29" fill="#2080e8"/>
<rect x="1225" y="389" width="1" height="20" fill="#a40000"/>
<rect x="1224" y="391" width="3" height="13" fill="#a40000"/>
<rect x="1225" y="392" width="1" height="11" fill="#f02020"/>
<rect x="1229" y="393" width="1" height="19" fill="#a40000"/>
<rect x="1228" y="403" width="3" height="4" fill="#a40000"/>
<rect x="1229" y="404" width="1" height="2" fill="#f02020"/>
<rect x="1233" y="404" width="1" height="20" fill="#a40000"/>
<rect x="1232" y="406" width="3" height="12" fill="#a40000"/>
<rect x="1233" y="407" width="1" height="10" fill="#f02020"/>
<rect x="1237" y="414" width="1" height="13" fill="#a40000"/>
<rect x="1236" y="417" width="3" height="4" fill="#a40000"/>
<rect x="1237" y="418" width="1" height="2" fill="#f02020"/>
<rect x="1241" y="409" width="1" height="15" fill="#00228a"/>
<rect x="1240" y="415" width="3" height="6" fill="#00228a"/>
<rect x="1241" y="416" width="1" height="4" fill="#2080e8"/>
<rect x="1244" y="407" width="1" height="10" fill="#00228a"/>
<rect x="1243" y="408" width="3" height="8" fill="#00228a"/>
<rect x="1244" y="409" width="1" height="6" fill="#2080e8"/>
<rect x="1248" y="408" width="1" height="7" fill="#a40000"/>
<rect x="1247" y="408" width="3" height="4" fill="#a40000"/>
<rect x="1248" y="409" width="1" height="2" fill="#f02020"/>
<rect x="1252" y="404" width="1" height="15" fill="#00228a"/>
<rect x="1251" y="409" width="3" height="3" fill="#00228a"/>
<rect x="1252" y="410" width="1" height="1" fill="#2080e8"/>
<rect x="1256" y="409" width="1" height="5" fill="#a40000"/>
<rect x="1255" y="409" width="3" height="3" fill="#a40000"/>
<rect x="1256" y="410" width="1" height="1" fill="#f02020"/>
<rect x="1260" y="411" width="1" height="3" fill="#a40000"/>
<rect x="1259" y="411" width="3" height="2" fill="#a40000"/>
<rect x="1264" y="408" width="1" height="9" fill="#00228a"/>
<rect x="1263" y="409" width="3" height="4" fill="#00228a"/>
<rect x="1264" y="410" width="1" height="2" fill="#2080e8"/>
<rect x="1268" y="401" width="1" height="11" fill="#00228a"/>
<rect x="1267" y="409" width="3" height="1" fill="#00228a"/>
<rect x="1272" y="404" width="1" height="5" fill="#00228a"/>
<rect x="1271" y="406" width="3" height="3" fill="#00228a"/>
<rect x="1272" y="407" width="1" height="1" fill="#2080e8"/>
<rect x="1276" y="406" width="1" height="7" fill="#a40000"/>
<rect x="1275" y="406" width="3" height="5" fill="#a40000"/>
<rect x="1276" y="407" width="1" height="3" fill="#f02020"/>
<rect x="1279" y="404" width="1" height="7" fill="#00228a"/>
<rect x="1278" y="404" width="3" height="7" fill="#00228a"/>
<rect x="1279" y="405" width="1" height="5" fill="#2080e8"/>
<rect x="1283" y="402" width="1" height="6" fill="#00228a"/>
<rect x="1282" y="404" width="3" height="1" fill="#00228a"/>
<rect x="1287" y="385" width="1" height="25" fill="#00228a"/>
<rect x="1286" y="395" width="3" height="10" fill="#00228a"/>
<rect x="1287" y="396" width="1" height="8" fill="#2080e8"/>
<rect x="1291" y="395" width="1" height="23" fill="#a40000"/>
<rect x="1290" y="396" width="3" height="16" fill="#a40000"/>
<rect x="1291" y="397" width="1" height="14" fill="#f02020"/>
<rect x="1295" y="397" width="1" height="17" fill="#00228a"/>
<rect x="1294" y="410" width="3" height="2" fill="#00228a"/>
<rect x="1299" y="407" width="1" height="14" fill="#a40000"/>
<rect x="1298" y="411" width="3" height="7" fill="#a40000"/>
<rect x="1299" y="412" width="1" height="5" fill="#f02020"/>
<rect x="1303" y="410" width="1" height="14" fill="#00228a"/>
<rect x="1302" y="415" width="3" height="3" fill="#00228a"/>
<rect x="1303" y="416" width="1" height="1" fill="#2080e8"/>
<rect x="1307" y="414" width="1" height="5" fill="#00228a"/>
<rect x="1306" y="415" width="3" height="1" fill="#00228a"/>
<rect x="1" y="581" width="1307" height="1" fill="#000"/>
<polyline points="0.0,602.0 4.0,593.3 8.0,586.7 12.0,578.3 16.0,572.8 20.0,568.3 24.0,569.3 28.0,571.7 32.0,575.3 36.0,577.2 40.0,572.5 44.0,568.3 48.0,570.3 52.0,571.7 56.0,577.0 58.3,586.7 62.5,594.7 68.0,597.3 74.0,600.3 82.0,606.0 90.0,609.7 94.0,612.5 98.0,615.0 102.0,617.5 106.0,616.3 110.0,608.3 114.0,600.0 118.0,595.3 122.0,592.0 126.0,589.2 130.0,585.8 132.8,582.8 136.0,571.7 140.0,558.3 144.0,548.8 148.8,544.2 152.8,545.3 156.7,552.5 160.0,559.7 164.0,565.8 168.3,572.5 172.5,580.0 176.7,588.3 180.0,594.2 183.3,598.7 191.7,606.7 195.8,612.5 200.0,617.5 203.0,619.7 206.7,620.3 210.8,614.2 214.7,610.3 218.7,610.3 223.3,617.5 226.7,620.3 229.2,621.3 237.0,615.3 241.7,601.7 246.7,583.3 252.5,562.5 257.5,545.8 264.5,529.2 272.5,518.3 280.0,515.3 284.7,520.0 289.2,533.3 294.2,551.7 299.2,573.3 302.7,584.2 309.2,595.0 315.3,605.3 318.3,616.7 322.5,635.0 325.8,650.0 327.5,658.3 331.7,678.3 334.2,696.7 340.0,720.0 346.7,748.3 351.7,768.3 357.5,790.0 362.5,805.0 369.7,821.7 377.5,830.8 385.3,839.2 393.3,843.7 400.8,848.7 404.2,850.3 408.7,845.8 413.3,831.7 420.8,811.7 425.8,790.0 431.7,768.3 436.7,745.0 440.0,721.7 443.3,701.7 447.0,681.7 451.7,665.0 457.1,651.2 462.9,638.8 468.3,626.7 470.0,625.0 474.2,618.3 478.3,615.3 482.5,611.3 486.7,613.0 491.7,623.3 497.9,638.3 502.5,649.6 506.7,664.2 510.6,686.7 514.2,705.0 518.3,726.7 522.1,746.7 525.8,762.9 530.0,771.7 534.2,779.2 538.3,785.0 542.0,787.5 547.5,786.7 551.7,783.3 556.7,777.5 560.8,771.7 565.0,763.3 569.2,751.7 572.5,743.3 576.7,740.3 580.0,740.0 583.3,738.3 587.5,732.5 591.7,723.3 595.8,710.0 600.4,691.7 607.5,665.0 611.7,645.0 614.2,631.7 618.3,616.7 622.5,605.8 626.7,599.7 630.8,594.2 635.0,591.2 638.3,589.7 642.5,592.5 646.7,596.7 649.7,599.7 653.3,598.3 657.5,592.5 661.7,586.7 665.8,583.7 670.0,582.0 674.2,584.2 678.3,590.0 682.0,599.2 685.4,612.5 689.2,626.7 693.3,646.7 697.5,668.3 701.7,688.3 705.0,703.3 708.3,713.3 713.3,718.3 715.0,720.0 719.6,724.4 723.8,727.5 727.5,729.2 731.7,729.5 735.8,730.3 739.2,730.5 743.3,732.2 747.5,732.5 751.7,732.2 755.0,728.7 758.3,724.7 761.7,716.7 763.8,709.6 767.5,695.0 771.7,678.3 776.7,658.3 781.7,642.5 785.8,635.8 790.0,631.7 793.7,628.0 797.5,622.5 801.7,617.5 805.8,612.5 809.7,608.3 813.3,608.3 817.5,611.7 821.7,618.3 825.8,625.0 830.0,632.5 834.2,641.7 837.5,651.7 841.7,666.7 845.8,681.7 849.2,693.3 854.2,707.5 858.3,715.0 862.5,723.3 866.7,733.3 870.0,743.3 873.3,755.0 876.7,768.3 880.0,781.7 883.3,793.3 886.7,802.5 890.8,811.7 895.0,816.7 899.2,820.8 903.3,823.7 906.7,825.0 910.8,826.5 915.0,829.2 919.2,832.5 923.3,835.3 927.5,838.3 931.7,840.8 937.0,843.3 940.8,835.0 945.0,823.3 949.2,808.3 953.3,791.7 957.5,773.3 961.7,760.0 965.0,749.2 968.3,740.0 972.5,729.2 975.8,716.7 980.0,700.0 994.7,660.0 997.5,651.7 1001.7,631.7 1005.8,611.7 1010.0,593.3 1013.3,579.2 1015.8,572.5 1019.2,567.0 1023.3,563.7 1027.5,562.5 1031.3,562.5 1035.0,559.5 1038.7,557.5 1042.5,553.0 1046.7,547.5 1050.3,544.7 1054.7,544.7 1058.3,545.5 1062.5,544.5 1066.3,543.3 1070.0,536.3 1073.7,529.5 1077.5,530.5 1081.7,537.5 1085.8,547.5 1090.0,557.5 1094.2,567.5 1098.3,580.0 1101.7,595.0 1105.0,610.0 1108.3,621.2 1112.5,630.4 1116.7,639.2 1120.8,650.4 1124.0,660.0 1128.3,670.0 1132.5,680.8 1136.3,691.7 1139.5,703.3 1143.3,712.5 1147.5,723.3 1151.7,735.0 1155.8,745.0 1159.7,753.0 1164.2,754.2 1167.5,754.2 1171.3,753.0 1175.0,749.7 1178.3,745.0 1182.5,736.7 1186.7,726.7 1190.8,713.3 1195.0,698.3 1199.2,686.7 1203.3,676.7 1206.7,668.3 1210.0,655.8 1214.2,643.3 1218.3,630.8 1222.5,620.0 1227.5,610.0 1230.0,605.0 1233.7,600.3 1237.5,598.3 1241.3,595.3 1245.0,589.2 1248.7,582.5 1252.5,573.3 1255.8,561.7 1259.2,548.3 1262.5,539.2 1265.8,534.2 1270.0,529.2 1275.8,524.2 1280.0,519.2 1285.0,513.3 1289.2,506.7 1293.3,498.3 1297.5,490.0 1301.7,482.5 1305.0,476.7 1307.5,470.3" fill="none" stroke="#000" stroke-width="1.1" shape-rendering="geometricPrecision" stroke-linejoin="round"/>
<rect x="1" y="29" width="50" height="21" fill="url(#lbl)"/>
<rect x="51" y="29" width="1" height="22" fill="#b4b4b4"/>
<rect x="1" y="50" width="51" height="1" fill="#b4b4b4"/>
<text x="3" y="46.8" font-size="18.8" stroke="#000" stroke-width="0.4" textLength="45.5" lengthAdjust="spacingAndGlyphs">Price</text>
<rect x="1" y="451" width="163" height="21" fill="url(#lbl)"/>
<rect x="164" y="451" width="1" height="22" fill="#b4b4b4"/>
<rect x="1" y="472" width="164" height="1" fill="#b4b4b4"/>
<text x="3" y="468.8" font-size="19.5" stroke="#000" stroke-width="0.4" textLength="157.5" lengthAdjust="spacingAndGlyphs">fractal dimension</text>
<rect x="165" y="451" width="161" height="21" fill="url(#lbl)"/>
<rect x="326" y="451" width="1" height="22" fill="#b4b4b4"/>
<rect x="165" y="472" width="162" height="1" fill="#b4b4b4"/>
<text x="168" y="468.8" font-size="19.5" stroke="#000" stroke-width="0.4" textLength="155.5" lengthAdjust="spacingAndGlyphs">1.4 level ( 30 1.4)</text>
<text x="3" y="445" font-size="10.5" stroke="#000" stroke-width="0.25" textLength="88" lengthAdjust="spacingAndGlyphs">© IT-Finance.com</text>
<rect x="6" y="12" width="1" height="11" fill="#d04040"/><rect x="3.5" y="14.5" width="6" height="6" fill="#f08080" stroke="#d04040"/>
<rect x="14" y="7" width="1" height="16" fill="#20a020"/><rect x="11.500" y="10.500" width="6" height="9" fill="#60e060" stroke="#20a020"/>
<text x="23.5" y="21.5" font-size="19.6" stroke="#000" stroke-width="0.65" textLength="126.5" lengthAdjust="spacingAndGlyphs">GBP/USD Mini</text>
<text x="169.3" y="21.5" font-size="19.6" stroke="#000" stroke-width="0.65" textLength="60.5" lengthAdjust="spacingAndGlyphs">1 hour</text>
<text x="248.6" y="21.5" font-size="19.6" stroke="#000" stroke-width="0.65" textLength="79" lengthAdjust="spacingAndGlyphs">1.27094</text>
<text x="334" y="21.5" font-size="19.6" stroke="#000" stroke-width="0.65" textLength="77" lengthAdjust="spacingAndGlyphs">(-0.04%)</text>
<text x="429.6" y="21.5" font-size="19.6" stroke="#000" stroke-width="0.65" textLength="119" lengthAdjust="spacingAndGlyphs">17-Aug-2018</text>
<text x="556.4" y="21.5" font-size="19.6" stroke="#000" stroke-width="0.65" textLength="86.5" lengthAdjust="spacingAndGlyphs">13:05:34</text>
<text x="1291.3" y="21.5" font-size="19.6" stroke="#000" stroke-width="0.65" textLength="146.5" lengthAdjust="spacingAndGlyphs">IT-Finance.com</text>
<rect x="1362" y="415" width="5" height="1" fill="#000"/>
<rect x="1367.5" y="402.5" width="70" height="25" fill="url(#gold)" stroke="#c0a848"/>
<text x="1369.5" y="421.6" font-size="19" stroke="#000" stroke-width="0.4" textLength="67.5" lengthAdjust="spacingAndGlyphs">1.27094</text>
<rect x="1362" y="470" width="5" height="1" fill="#000"/>
<rect x="1367.5" y="457.5" width="60" height="25" fill="url(#valb)" stroke="#bcbcbc"/>
<text x="1370" y="477" font-size="19" stroke="#000" stroke-width="0.4" textLength="56" lengthAdjust="spacingAndGlyphs">1.5345</text>
<rect x="1362" y="581" width="5" height="1" fill="#000"/>
<rect x="1367.5" y="568.5" width="60" height="25" fill="url(#valb)" stroke="#bcbcbc"/>
<text x="1370" y="588" font-size="19" stroke="#000" stroke-width="0.4" textLength="56" lengthAdjust="spacingAndGlyphs">1.4000</text>
</svg>
</body></html>
